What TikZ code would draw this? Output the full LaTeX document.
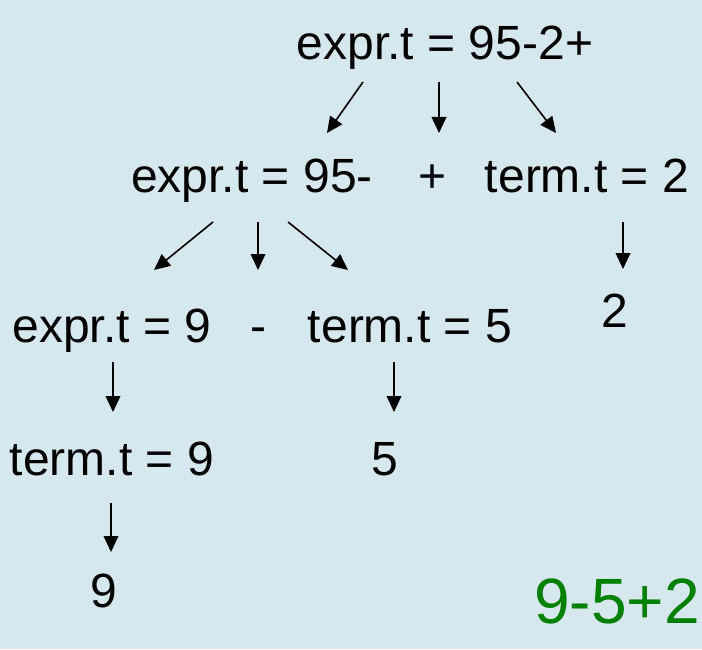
\documentclass[tikz,border=0pt]{standalone}
\usepackage{fontspec}
\setmainfont{Liberation Sans}
\usetikzlibrary{arrows.meta}
\definecolor{slidebg}{HTML}{D6E7EE}
\definecolor{slidegreen}{HTML}{008000}

\begin{document}
\begin{tikzpicture}[x=0.75pt,y=-0.75pt,>={Triangle[length=12pt,width=11pt]},
  lab/.style={anchor=base,inner sep=0pt,font=\fontsize{36}{43}\selectfont},
  arr/.style={->,line width=1.2pt}]
  % background
  \fill[slidebg] (0,0) rectangle (702,649);
  \useasboundingbox (0,0) rectangle (702,649);
  % top
  \node[lab] (e1) at (445,60) {expr.t = 95-2+};
  % second row
  \node[lab] (e2) at (252,192) {expr.t = 95-};
  \node[lab] (plus) at (433,192) {+};
  \node[lab] (t2) at (587,192) {term.t = 2};
  % third row
  \node[lab] (e3) at (112,342) {expr.t = 9};
  \node[lab] (minus) at (258,342) {-};
  \node[lab] (t5) at (410,342) {term.t = 5};
  \node[lab] (two) at (615,327) {2};
  % fourth row
  \node[lab] (t9) at (112,475) {term.t = 9};
  \node[lab] (five) at (385,475) {5};
  \node[lab] (nine) at (104,607) {9};
  % input string
  \node[anchor=base,inner sep=0pt,text=slidegreen,font=\fontsize{48}{57}\selectfont]
    (input) at (617,623) {9-5+2};
  % arrows
  \draw[arr] ([shift={(-82,22)}]e1.base) -- ([shift={(75,-59)}]e2.base);
  \draw[arr] ([shift={(-6,22)}]e1.base) -- ([shift={(6,-59)}]plus.base);
  \draw[arr] ([shift={(72,22)}]e1.base) -- ([shift={(-31,-59)}]t2.base);
  \draw[arr] ([shift={(-39,30)}]e2.base) -- ([shift={(42,-72)}]e3.base);
  \draw[arr] ([shift={(6,30)}]e2.base) -- ([shift={(0,-72)}]minus.base);
  \draw[arr] ([shift={(36,30)}]e2.base) -- ([shift={(-62,-72)}]t5.base);
  \draw[arr] ([shift={(36,30)}]t2.base) -- ([shift={(8,-58)}]two.base);
  \draw[arr] ([shift={(1,20)}]e3.base) -- ([shift={(1,-63)}]t9.base);
  \draw[arr] ([shift={(-16,20)}]t5.base) -- ([shift={(9,-63)}]five.base);
  \draw[arr] ([shift={(-1,28)}]t9.base) -- ([shift={(7,-55)}]nine.base);
\end{tikzpicture}
\end{document}
